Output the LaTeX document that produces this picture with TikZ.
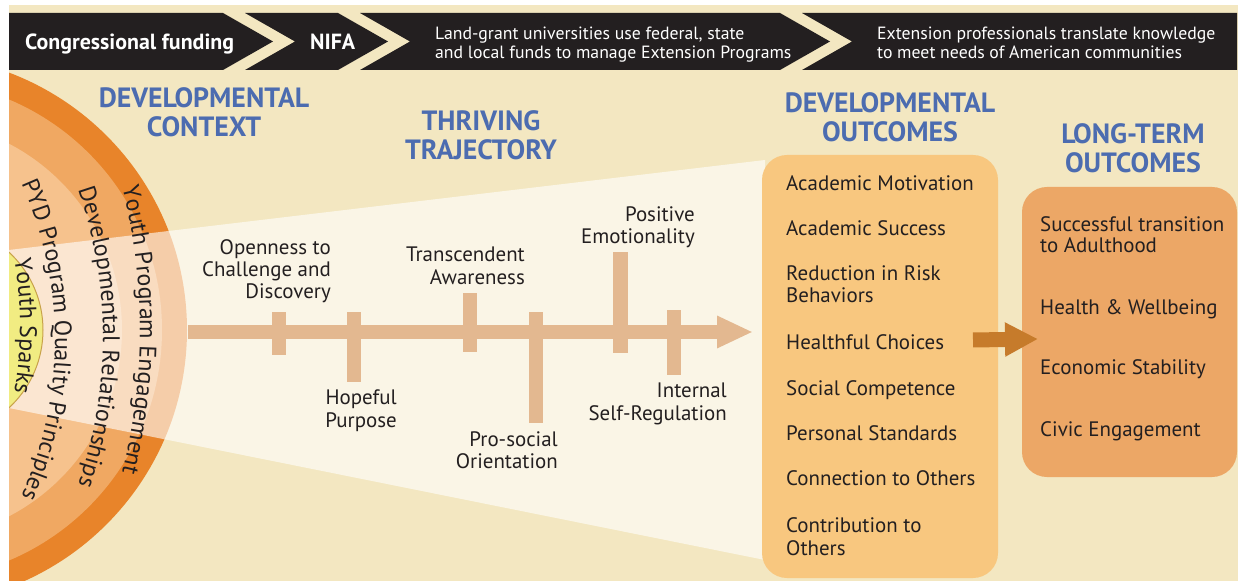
\documentclass[tikz,border=0pt]{standalone}
\usepackage{fontspec}
\setmainfont{PT Sans}
\usetikzlibrary{arrows.meta,decorations.text}

\definecolor{cream}{HTML}{F3E7C1}
\definecolor{bandblack}{HTML}{231F20}
\definecolor{ringdark}{HTML}{E8842A}
\definecolor{ringmid}{HTML}{F0A862}
\definecolor{ringlight}{HTML}{F6C28D}
\definecolor{sparkyellow}{HTML}{F1EC82}
\definecolor{sparkedge}{HTML}{C8A24A}
\definecolor{trajtan}{HTML}{E3B890}
\definecolor{headblue}{HTML}{4C6CB0}
\definecolor{devfill}{HTML}{F8C77F}
\definecolor{longfill}{HTML}{ECA766}
\definecolor{linkbrown}{HTML}{C67B2B}
\definecolor{inktext}{HTML}{231F20}

\newcommand\ringfont{\fontsize{24}{24}\selectfont}

\tikzset{
  heading/.style={text=headblue, font=\fontsize{28}{29}\selectfont\bfseries,
    align=center, inner sep=0pt, anchor=north},
  trajlabel/.style={text=inktext, font=\fontsize{21}{22.5}\selectfont,
    align=right, inner sep=0pt, anchor=north east},
  outitem/.style={text=inktext, font=\fontsize{21}{22.5}\selectfont,
    align=left, inner sep=0pt, anchor=north west},
  bannertext/.style={text=white, font=\fontsize{17.8}{19.5}\selectfont,
    align=left, inner sep=0pt, anchor=north west},
  bannerbold/.style={text=white, font=\fontsize{22}{22}\selectfont\bfseries,
    inner sep=0pt, anchor=base west},
  trajtick/.style={fill=trajtan},
  outbox/.style={rounded corners=25bp, inner sep=0pt},
  ringtext/.style={decorate, decoration={text along path, text align=center,
    text color=inktext, text={|\ringfont|#1}}}
}

\begin{document}
\begin{tikzpicture}[x=1bp,y=-1bp]
\useasboundingbox (0,0) rectangle (1238,581);
\fill[white] (0,0) rectangle (1238,581);
\fill[cream] (9,5) rectangle (1238,581);

% nested context rings
\begin{scope}
  \clip (9,5) rectangle (1238,581);
  \fill[ringdark]  (-88,330) circle[radius=275];
  \fill[ringmid]   (-88,330) circle[radius=250];
  \fill[ringlight] (-88,330) circle[radius=210];
\end{scope}

% light beam widening towards the outcomes
\fill[white, opacity=0.6] (9,250) -- (765,160) -- (765,560) -- (9,408) -- cycle;

% youth sparks core
\begin{scope}
  \clip (9,5) rectangle (1238,581);
  \filldraw[fill=sparkyellow, draw=sparkedge, line width=1bp] (-63,330) circle[radius=106];
\end{scope}

% curved ring labels
\path[ringtext={Youth Program Engagement}]
  (-440,330) ++(-18:580) arc[start angle=-18, end angle=18, radius=580];
\path[ringtext={Developmental Relationships}]
  (-347,337) ++(-24:450) arc[start angle=-24, end angle=24, radius=450];
\path[ringtext={PYD Program Quality Principles}]
  (-325,340) ++(-30:380) arc[start angle=-30, end angle=30, radius=380];
\path[ringtext={Youth Sparks}]
  (-380,326) ++(-16:400) arc[start angle=-16, end angle=16, radius=400];

% thriving trajectory arrow with its milestones
\coordinate (trajstart) at (188,332);
\coordinate (trajend) at (753,332);
\draw[trajtan, line width=13bp, -{Triangle[width=30bp,length=36bp]}] (trajstart) -- (trajend);
\fill[trajtick] (272,312) rectangle (286,355);
\fill[trajtick] (347,312) rectangle (361,382);
\fill[trajtick] (463,293) rectangle (477,352);
\fill[trajtick] (529,312) rectangle (543,423);
\fill[trajtick] (613,252) rectangle (628,353);
\fill[trajtick] (667,310) rectangle (681,375);

\node[trajlabel] (openness) at (331,239) {Openness to\\Challenge and\\Discovery};
\node[trajlabel] (hopeful) at (397,390) {Hopeful\\Purpose};
\node[trajlabel] (transcendent) at (525,247) {Transcendent\\Awareness};
\node[trajlabel] (prosocial) at (558,431) {Pro-social\\Orientation};
\node[trajlabel] (positive) at (695,206) {Positive\\Emotionality};
\node[trajlabel] (internal) at (727,383) {Internal\\Self-Regulation};

% section headings
\node[heading] (hcontext) at (204,87) {DEVELOPMENTAL\\CONTEXT};
\node[heading] (htraj) at (481,110) {THRIVING\\TRAJECTORY};
\node[heading] (hdevout) at (890,92) {DEVELOPMENTAL\\OUTCOMES};
\node[heading] (hlongout) at (1133,123) {LONG-TERM\\OUTCOMES};

% outcome boxes
\node[outbox, fill=devfill, minimum width=236bp, minimum height=423bp] (devbox) at (880,366.5) {};
\node[outbox, fill=longfill, minimum width=215bp, minimum height=290bp] (longbox) at (1129.5,332) {};

\node[outitem] (am) at (786,175.5) {Academic Motivation};
\node[outitem] (as) at (786,220.5) {Academic Success};
\node[outitem] (rr) at (786,265.5) {Reduction in Risk\\Behaviors};
\node[outitem] (hc) at (786,334.5) {Healthful Choices};
\node[outitem] (sc) at (786,380.5) {Social Competence};
\node[outitem] (ps) at (786,425.5) {Personal Standards};
\node[outitem] (co) at (786,470.5) {Connection to Others};
\node[outitem] (ct) at (786,517.5) {Contribution to\\Others};

\node[outitem, font=\fontsize{21}{20.5}\selectfont] (st) at (1040,216.5) {Successful transition\\to Adulthood};
\node[outitem] (hw) at (1040,299.5) {Health \& Wellbeing};
\node[outitem] (es) at (1040,359.5) {Economic Stability};
\node[outitem] (ce) at (1040,421.5) {Civic Engagement};

\coordinate (linkstart) at (973,340);
\coordinate (linkend) at (1038,339);
\draw[linkbrown, line width=15bp, -{Triangle[width=32bp,length=33bp]}] (linkstart) -- (linkend);

% funding banner
\fill[bandblack] (9,13) -- (223,13) -- (273,41.5) -- (223,70) -- (9,70) -- cycle;
\fill[bandblack] (245,13) -- (338,13) -- (388,41.5) -- (338,70) -- (245,70) -- (295,41.5) -- cycle;
\fill[bandblack] (360,13) -- (780,13) -- (830,41.5) -- (780,70) -- (360,70) -- (410,41.5) -- cycle;
\fill[bandblack] (802,13) -- (1237,13) -- (1237,70) -- (802,70) -- (852,41.5) -- cycle;

\node[bannerbold] (congress) at (25,50) {Congressional funding};
\node[bannerbold] (nifa) at (310,50) {NIFA};
\node[bannertext] (landgrant) at (435,26.5) {Land-grant universities use federal, state\\and local funds to manage Extension Programs};
\node[bannertext] (extension) at (877,26.5) {Extension professionals translate knowledge\\to meet needs of American communities};
\end{tikzpicture}
\end{document}
